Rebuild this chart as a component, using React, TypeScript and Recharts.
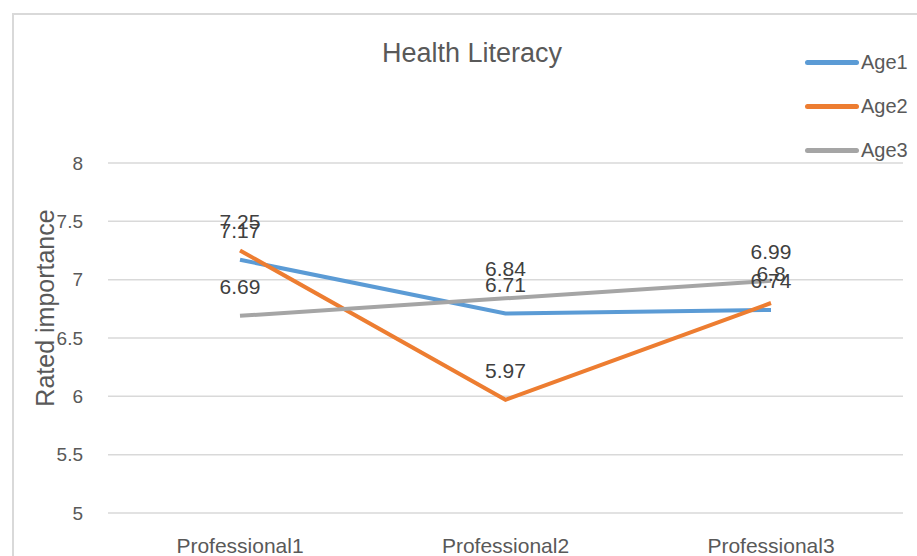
import {
	LineChart,
	Line,
	XAxis,
	YAxis,
	CartesianGrid,
	Legend,
	LabelList,
} from "recharts";

const categories = ["Professional1", "Professional2", "Professional3"];
const age1 = [7.17, 6.71, 6.74];
const age2 = [7.25, 5.97, 6.8];
const age3 = [6.69, 6.84, 6.99];
const yTicks = [5, 5.5, 6, 6.5, 7, 7.5, 8];
const boundaryTicks = [0, 1, 2, 3];

const seriesList = [
	{ key: "Age1", color: "#5B9BD5" },
	{ key: "Age2", color: "#ED7D31" },
	{ key: "Age3", color: "#A5A5A5" },
];

const data = categories.map((name, i) => ({
	name,
	idx: i + 0.5,
	Age1: age1[i],
	Age2: age2[i],
	Age3: age3[i],
}));

const FONT = "'Liberation Sans', Arial, sans-serif";
const TEXT = "#595959";

// legend rows, 3 x 44 = 132px, which recharts adds to the top offset
function LegendBox() {
	return (
		<div style={{ fontFamily: FONT }}>
			{seriesList.map((s) => (
				<div
					key={s.key}
					style={{ display: "flex", alignItems: "center", height: 44 }}
				>
					<div
						style={{
							width: 54,
							height: 5,
							borderRadius: 3,
							background: s.color,
							marginRight: 2,
						}}
					/>
					<span style={{ fontSize: 20, color: TEXT }}>{s.key}</span>
				</div>
			))}
		</div>
	);
}

function YLabel({ viewBox }: any) {
	const x = viewBox.x + 33;
	const y = viewBox.y + viewBox.height / 2 - 30;
	return (
		<text
			x={x}
			y={y}
			transform={`rotate(-90, ${x}, ${y})`}
			textAnchor="middle"
			dominantBaseline="central"
			fontSize={25}
			fill={TEXT}
			fontFamily={FONT}
		>
			Rated importance
		</text>
	);
}

export default function App() {
	return (
		<div style={{ position: "relative", width: 917, height: 556 }}>
			<style>{"body{margin:0}"}</style>
			<div
				style={{
					position: "absolute",
					left: 12,
					top: 13,
					width: 920,
					height: 560,
					border: "2px solid #D9D9D9",
					boxSizing: "border-box",
				}}
			/>
			<LineChart
				width={917}
				height={556}
				data={data}
				margin={{ top: 31, right: 14, bottom: 0, left: 12 }}
				style={{ position: "absolute", left: 0, top: 0 }}
			>
				<text
					x={472}
					y={53}
					textAnchor="middle"
					dominantBaseline="central"
					fontSize={27}
					fill={TEXT}
					fontFamily={FONT}
				>
					Health Literacy
				</text>
				<CartesianGrid
					vertical={false}
					stroke="#D9D9D9"
					strokeWidth={1.5}
				/>
				<XAxis
					xAxisId="b"
					dataKey="idx"
					type="number"
					domain={[0, 3]}
					ticks={boundaryTicks}
					tick={false}
					height={0}
					axisLine={{ stroke: "#D9D9D9", strokeWidth: 2 }}
					tickLine={{ stroke: "#D9D9D9", strokeWidth: 2 }}
					tickSize={6}
				/>
				<XAxis
					dataKey="name"
					axisLine={false}
					tickLine={false}
					padding={{ left: 132, right: 132 }}
					height={43}
					tickMargin={19}
					tick={{ fontSize: 21, fill: TEXT, fontFamily: FONT }}
				/>
				<YAxis
					domain={[5, 8]}
					ticks={yTicks}
					width={96}
					axisLine={false}
					tickLine={false}
					tickSize={0}
					tickMargin={25}
					tick={{ fontSize: 19, fill: TEXT, fontFamily: FONT }}
					label={<YLabel />}
				/>
				<Legend
					layout="vertical"
					align="center"
					verticalAlign="top"
					content={<LegendBox />}
					wrapperStyle={{ left: 805, top: 40, width: 112 }}
				/>
				{seriesList.map((s) => (
					<Line
						key={s.key}
						dataKey={s.key}
						stroke={s.color}
						strokeWidth={4}
						dot={false}
						activeDot={false}
						type="linear"
						isAnimationActive={false}
					>
						<LabelList
							dataKey={s.key}
							position="top"
							offset={22}
							fontSize={21}
							fill="#404040"
							fontFamily={FONT}
						/>
					</Line>
				))}
			</LineChart>
		</div>
	);
}
